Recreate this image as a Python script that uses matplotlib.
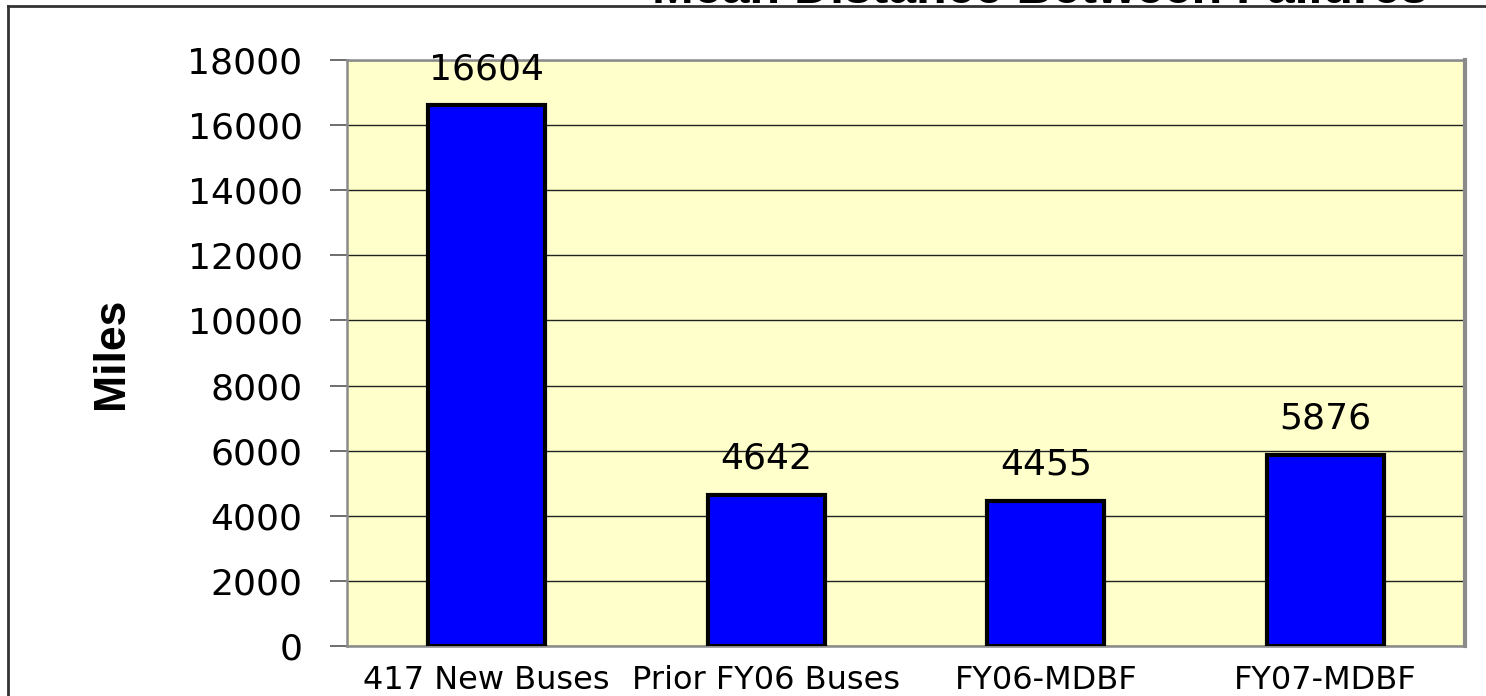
import matplotlib.pyplot as plt
from matplotlib.lines import Line2D

# Mean distance between failures (miles)
categories = ['417 New Buses', 'Prior FY06 Buses', 'FY06-MDBF', 'FY07-MDBF']
miles = [16604, 4642, 4455, 5876]
yticks = [0, 2000, 4000, 6000, 8000, 10000, 12000, 14000, 16000, 18000]

fig = plt.figure(figsize=(14.86, 6.96), dpi=100)
ax = fig.add_axes([0.2335, 0.0718, 0.7524, 0.842])
ax.set_facecolor('#FFFFCC')

x = range(len(categories))
bars = ax.bar(x, miles, width=0.42, color='#0000FF', edgecolor='black',
              linewidth=3, zorder=3)

for b, v in zip(bars, miles):
    ax.annotate(str(v), (b.get_x() + b.get_width() / 2, v),
                xytext=(0, 14), textcoords='offset points',
                ha='center', va='bottom', fontsize=26, family='DejaVu Sans')

ax.set_xlim(-0.5, len(categories) - 0.5)
ax.set_ylim(0, 18000)
ax.set_yticks(yticks)
ax.set_yticklabels([str(t) for t in yticks], fontsize=26, family='DejaVu Sans')
ax.set_xticks(list(x))
ax.set_xticklabels(categories, fontsize=23, family='DejaVu Sans')
ax.tick_params(axis='y', length=12, width=1.2, color='#555555', pad=20)
ax.tick_params(axis='x', length=0, pad=14)

ax.yaxis.grid(True, color='#222222', linewidth=1.0, zorder=1)
ax.set_axisbelow(True)
for s in ax.spines.values():
    s.set_color('#8A8A8A')
    s.set_linewidth(1.8)
ax.spines['right'].set_linewidth(3)

ax.set_ylabel('Miles', fontsize=32, fontweight='bold',
              family='Liberation Sans', labelpad=40)

# title, mostly cut off at the top edge
fig.text(0.700, 0.995, 'Mean Distance Between Failures', ha='center',
         va='baseline', fontsize=36, fontweight='bold', family='Liberation Sans')

# outer frame (left and top edges visible)
fig.add_artist(Line2D([0.0057, 0.0057], [-0.1, 0.9920], color='#333333', lw=2))
fig.add_artist(Line2D([0.0057, 1.1], [0.9920, 0.9920], color='#333333', lw=2))

fig.savefig('out.png', dpi=100)
